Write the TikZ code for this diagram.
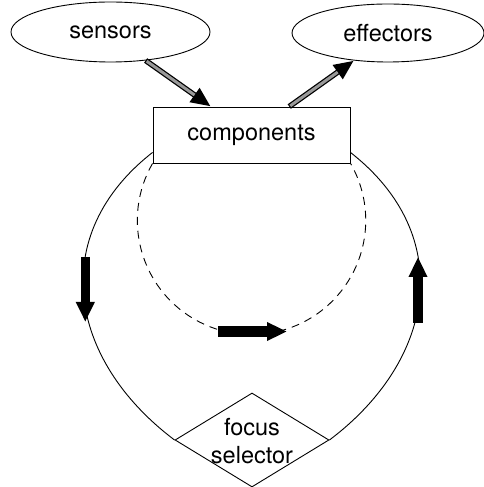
\documentclass[tikz,border=0pt]{standalone}
\usepackage{fontspec}
\setmainfont{TeX Gyre Heros}
\usetikzlibrary{shapes.geometric,arrows.meta}
\begin{document}
\begin{tikzpicture}[x=1pt,y=1pt,
  every node/.style={font=\fontsize{23.5}{28}\selectfont},
  ell/.style={draw, line width=0.9pt, ellipse, inner sep=0pt},
  boxnode/.style={draw, line width=0.9pt, rectangle, inner sep=0pt},
  dia/.style={draw, line width=0.9pt, diamond, inner sep=0pt},
  loopline/.style={line width=0.9pt},
  dashloop/.style={line width=0.9pt, dash pattern=on 8pt off 6pt},
  bigarrow/.style={line width=9.5pt, -{Triangle[length=20pt,width=17.5pt]}},
  ioarrow/.style={line width=5.5pt, -{Triangle[length=20pt,width=16pt]}},
  iofill/.style={line width=3pt, black!40, shorten >=20pt, shorten <=1.2pt}
]
\path[use as bounding box] (0,0) rectangle (484,487);

\node[ell, minimum width=199pt, minimum height=60pt] (sensors) at (110.5,455) {sensors};
\node[ell, minimum width=192pt, minimum height=58pt] (effectors) at (388,454) {effectors};
\node[boxnode, minimum width=197pt, minimum height=56pt] (components) at (251.5,352) {components};
\node[dia, minimum width=154pt, minimum height=94pt] (focus) at (252,47) {};
\node[align=center, inner sep=0pt] (focuslabel) at (252,46) {focus\\selector};

% outer loop
\draw[loopline] (components.190) to[out=218, in=143, looseness=1.19] (focus.west);
\draw[loopline] (components.-10) to[out=-38, in=37, looseness=1.19] (focus.east);

% inner dashed loop
\draw[dashloop] (components.south west) arc[start angle=150.1, end angle=389.9, radius=114.2];

% input / output arrows
\draw[ioarrow] (sensors.-39) -- (components.145);
\draw[iofill] (sensors.-39) -- (components.145);
\draw[ioarrow] (components.37.5) -- (effectors.219.6);
\draw[iofill] (components.37.5) -- (effectors.219.6);

% flow arrows
\coordinate (la1) at (85.3,230);
\coordinate (la2) at (85.3,165);
\coordinate (ra1) at (418,164);
\coordinate (ra2) at (418,230);
\coordinate (ba1) at (218,155.5);
\coordinate (ba2) at (287,155.5);
\draw[bigarrow] (la1) -- (la2);
\draw[bigarrow] (ra1) -- (ra2);
\draw[bigarrow, line width=10.5pt] (ba1) -- (ba2);
\end{tikzpicture}
\end{document}
